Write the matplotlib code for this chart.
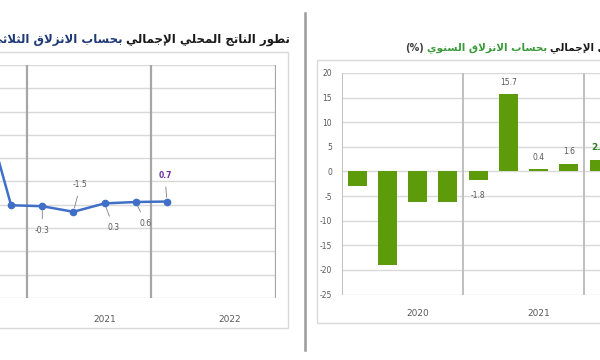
import matplotlib
matplotlib.use("Agg")
import matplotlib.pyplot as plt
import matplotlib.transforms as mtransforms
from matplotlib.patches import Rectangle
from matplotlib.lines import Line2D

# ---- data ----
years = ["2020", "2021", "2022"]

# quarterly (q-o-q) growth, left chart; index = quarter number from 2020 Q1
qoq_idx = [2, 3, 4, 5, 6, 7, 8]
qoq_val = [24.0, -0.1, -0.3, -1.5, 0.3, 0.6, 0.7]
qoq_lbl = ["", "", "-0.3", "-1.5", "0.3", "0.6", "0.7"]

# annual slide (y-o-y) growth, right chart
yoy_idx = [0, 1, 2, 3, 4, 5, 6, 7, 8]
yoy_val = [-3.0, -19.0, -6.2, -6.3, -1.8, 15.7, 0.4, 1.6, 2.4]
yoy_lbl = ["", "", "", "", "-1.8", "15.7", "0.4", "1.6", "2.4"]

title_l_black = "تطور الناتج المحلي الإجمالي"
title_l_blue = "بحساب الانزلاق الثلاثي"
title_r_black = "تطور الناتج المحلي الإجمالي"
title_r_green = "بحساب الانزلاق السنوي"
title_r_pct = "(%)"

# ---- minimal arabic shaping (presentation forms, visual order) ----
FORMS = {
    "ا": ("\uFE8D", "\uFE8E", None, None),
    "إ": ("\uFE87", "\uFE88", None, None),
    "ب": ("\uFE8F", "\uFE90", "\uFE91", "\uFE92"),
    "ت": ("\uFE95", "\uFE96", "\uFE97", "\uFE98"),
    "ث": ("\uFE99", "\uFE9A", "\uFE9B", "\uFE9C"),
    "ج": ("\uFE9D", "\uFE9E", "\uFE9F", "\uFEA0"),
    "ح": ("\uFEA1", "\uFEA2", "\uFEA3", "\uFEA4"),
    "ر": ("\uFEAD", "\uFEAE", None, None),
    "ز": ("\uFEAF", "\uFEB0", None, None),
    "س": ("\uFEB1", "\uFEB2", "\uFEB3", "\uFEB4"),
    "ط": ("\uFEC1", "\uFEC2", "\uFEC3", "\uFEC4"),
    "ق": ("\uFED5", "\uFED6", "\uFED7", "\uFED8"),
    "ل": ("\uFEDD", "\uFEDE", "\uFEDF", "\uFEE0"),
    "م": ("\uFEE1", "\uFEE2", "\uFEE3", "\uFEE4"),
    "ن": ("\uFEE5", "\uFEE6", "\uFEE7", "\uFEE8"),
    "و": ("\uFEED", "\uFEEE", None, None),
    "ي": ("\uFEF1", "\uFEF2", "\uFEF3", "\uFEF4"),
    "لا": ("\uFEFB", "\uFEFC", None, None),
    "لإ": ("\uFEF9", "\uFEFA", None, None),
}


def shape(text):
    toks = []
    i = 0
    while i < len(text):
        if text[i] == "ل" and i + 1 < len(text) and text[i + 1] in "اإ":
            toks.append(text[i:i + 2])
            i += 2
        else:
            toks.append(text[i])
            i += 1
    out = []
    for k, t in enumerate(toks):
        f = FORMS.get(t)
        if f is None:
            out.append(t)
            continue
        prev = toks[k - 1] if k > 0 else None
        nxt = toks[k + 1] if k + 1 < len(toks) else None
        jp = prev in FORMS and FORMS[prev][2] is not None
        jn = f[2] is not None and nxt in FORMS
        if jp and jn:
            out.append(f[3])
        elif jp:
            out.append(f[1])
        elif jn:
            out.append(f[2])
        else:
            out.append(f[0])
    vis = "".join(out)[::-1]
    return vis.translate(str.maketrans("()", ")("))


W, H = 600, 360
fig = plt.figure(figsize=(6, 3.6), dpi=100)
fig.patch.set_facecolor("white")


def fx(px):
    return px / W


def fy(py):
    return 1 - py / H


GRID = "#d9d9d9"
SEP = "#a6a6a6"
TXT = "#595959"

# frames and divider
fig.add_artist(Rectangle((fx(-20), fy(328)), fx(308), (328 - 52) / H,
                         fill=False, ec="#d9d9d9", lw=1.0))
fig.add_artist(Rectangle((fx(317), fy(323)), fx(300), (323 - 60) / H,
                         fill=False, ec="#d9d9d9", lw=1.0))
fig.add_artist(Line2D([fx(305), fx(305)], [fy(13), fy(350)], color="#9a9a9a", lw=1.8))

# ---- left chart: line ----
axl = fig.add_axes([fx(-98), fy(298), fx(374), 233 / H])
axl.set_xlim(-0.5, 11.5)
axl.set_ylim(-20, 30)
axl.set_yticks(range(-20, 31, 5))
axl.set_xticks([])
axl.tick_params(left=False, labelleft=False)
axl.grid(axis="y", color=GRID, lw=1.0)
for s in axl.spines.values():
    s.set_visible(False)
for xb in [3.5, 7.5, 11.5]:
    axl.axvline(xb, color=SEP, lw=1.6)
axl.set_axisbelow(True)
axl.plot(qoq_idx, qoq_val, color="#3f6fc6", lw=1.8, marker="o", ms=4.5, zorder=3)

offs = {"-0.3": (0, -24), "-1.5": (7, 27), "0.3": (9, -24), "0.6": (10, -21), "0.7": (-2, 26)}
for x, v, lb in zip(qoq_idx, qoq_val, qoq_lbl):
    if not lb:
        continue
    col = "#7030a0" if lb == "0.7" else TXT
    axl.annotate(lb, (x, v), xytext=offs[lb], textcoords="offset pixels",
                 ha="center", va="center", fontsize=5.5, color=col,
                 fontweight="bold" if lb == "0.7" else "normal",
                 arrowprops=dict(arrowstyle="-", color="#7f7f7f", lw=0.6,
                                 shrinkA=3, shrinkB=3))

# the 2020 block of the left chart lies outside the cropped view
trl = mtransforms.blended_transform_factory(axl.transData, axl.transAxes)
for k, yr in enumerate(years):
    if k == 0:
        continue
    axl.text(4 * k + 2, -0.094, yr, transform=trl, ha="center", va="center",
             fontsize=6.5, color=TXT, clip_on=False)

# ---- right chart: bars ----
axr = fig.add_axes([fx(342), fy(294.5), fx(363), 221.5 / H])
axr.set_xlim(-0.5, 11.5)
axr.set_ylim(-25, 20)
axr.set_yticks(range(-25, 21, 5))
axr.set_yticklabels([str(t) for t in range(-25, 21, 5)])
axr.set_xticks([])
axr.tick_params(axis="y", length=0, pad=7, labelsize=5.5, labelcolor=TXT)
axr.grid(axis="y", color=GRID, lw=1.0)
for s in axr.spines.values():
    s.set_visible(False)
for xb in [-0.5, 3.5, 7.5]:
    axr.axvline(xb, color="#bfbfbf", lw=1.4)
axr.set_axisbelow(True)
axr.bar(yoy_idx, yoy_val, width=0.63, color="#5e9b0a", zorder=3)

for x, v, lb in zip(yoy_idx, yoy_val, yoy_lbl):
    if not lb:
        continue
    last = x == yoy_idx[-1]
    axr.annotate(lb, (x, v), xytext=(0, 12 if v >= 0 else -15),
                 textcoords="offset pixels", ha="center", va="center",
                 fontsize=6.5 if last else 5.5,
                 color="#2e7d1e" if last else TXT,
                 fontweight="bold" if last else "normal")

trr = mtransforms.blended_transform_factory(axr.transData, axr.transAxes)
for k, yr in enumerate(years):
    axr.text(4 * k + 2, -0.084, yr, transform=trr, ha="center", va="center",
             fontsize=6.5, color=TXT, clip_on=False)

# ---- titles (multi-coloured, right-to-left) ----
fig.canvas.draw()
rend = fig.canvas.get_renderer()

t1 = fig.text(fx(290), fy(40), shape(title_l_black), ha="right", va="center",
              fontsize=8.5, fontweight="bold", color="#1a1a1a")
bb = t1.get_window_extent(rend)
fig.text(bb.x0 / W - fx(4), fy(40), shape(title_l_blue), ha="right", va="center",
         fontsize=8.5, fontweight="bold", color="#203a78")

t2 = fig.text(fx(405), fy(48), shape(title_r_pct), ha="left", va="center",
              fontsize=7, fontweight="bold", color="#404040")
bb = t2.get_window_extent(rend)
t3 = fig.text(bb.x1 / W + fx(3), fy(48), shape(title_r_green), ha="left", va="center",
              fontsize=7.5, fontweight="bold", color="#3a9a3a")
bb = t3.get_window_extent(rend)
fig.text(bb.x1 / W + fx(3), fy(48), shape(title_r_black), ha="left", va="center",
         fontsize=7.5, fontweight="bold", color="#1a1a1a")

fig.savefig("out.png", dpi=100)
